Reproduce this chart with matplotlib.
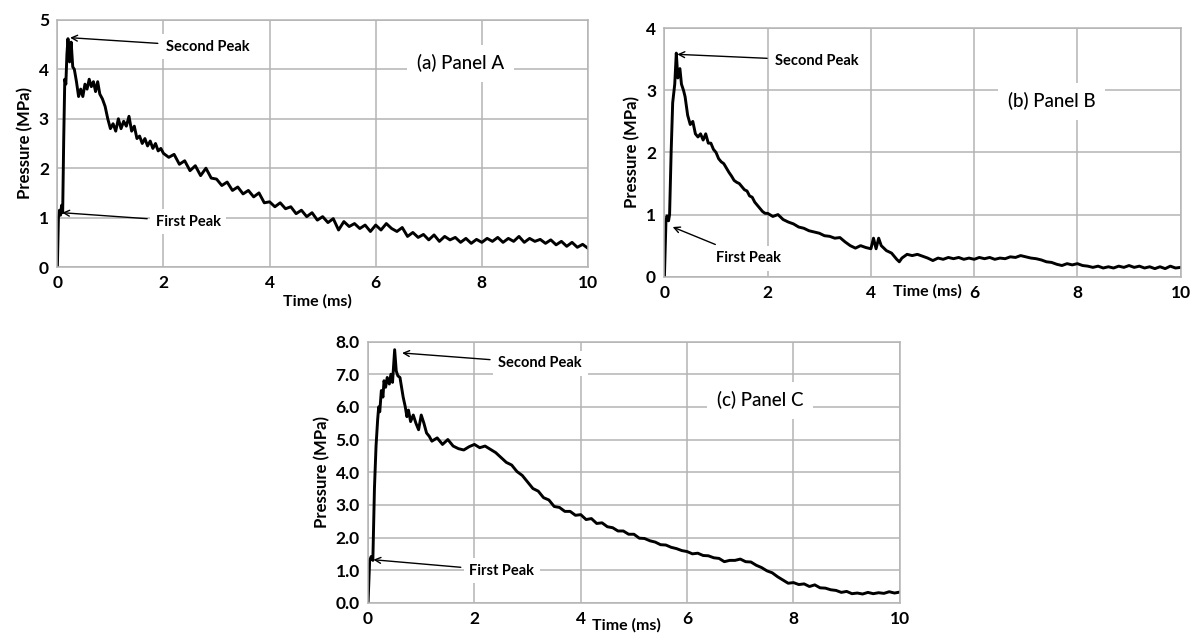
import numpy as np
import matplotlib.pyplot as plt

plt.rcParams['font.family'] = ['Lato', 'DejaVu Sans']

# ---- panel A : pressure trace (MPa) vs time (ms)
time_a = [0, 0.02, 0.04, 0.06, 0.08, 0.1, 0.12, 0.14, 0.16, 0.18, 0.2, 0.23, 0.26, 0.29,
          0.32, 0.36, 0.4, 0.44, 0.48, 0.52, 0.56, 0.6, 0.64, 0.68, 0.72, 0.76, 0.8,
          0.85, 0.9, 0.95, 1.0, 1.05, 1.1, 1.15, 1.2, 1.25, 1.3, 1.35, 1.4, 1.45, 1.5,
          1.55, 1.6, 1.65, 1.7, 1.75, 1.8, 1.85, 1.9, 1.95,
          2.0, 2.1, 2.2, 2.3, 2.4, 2.5, 2.6, 2.7, 2.8, 2.9, 3.0, 3.1, 3.2, 3.3, 3.4, 3.5,
          3.6, 3.7, 3.8, 3.9, 4.0, 4.1, 4.2, 4.3, 4.4, 4.5, 4.6, 4.7, 4.8, 4.9, 5.0, 5.1,
          5.2, 5.3, 5.4, 5.5, 5.6, 5.7, 5.8, 5.9, 6.0, 6.1, 6.2, 6.3, 6.4, 6.5, 6.6, 6.7,
          6.8, 6.9, 7.0, 7.1, 7.2, 7.3, 7.4, 7.5, 7.6, 7.7, 7.8, 7.9, 8.0, 8.1, 8.2, 8.3,
          8.4, 8.5, 8.6, 8.7, 8.8, 8.9, 9.0, 9.1, 9.2, 9.3, 9.4, 9.5, 9.6, 9.7, 9.8, 9.9,
          10.0]
pres_a = [0, 1.0, 1.15, 1.05, 1.25, 1.1, 2.6, 3.8, 3.7, 4.3, 4.62, 4.15, 4.55, 4.05,
          4.0, 3.75, 3.45, 3.6, 3.45, 3.7, 3.6, 3.8, 3.65, 3.75, 3.55, 3.75, 3.5,
          3.4, 3.25, 3.0, 2.8, 2.9, 2.75, 3.0, 2.8, 2.95, 2.85, 3.05, 2.75, 2.85, 2.6,
          2.65, 2.5, 2.6, 2.45, 2.55, 2.4, 2.5, 2.35, 2.4,
          2.3, 2.22, 2.28, 2.08, 2.15, 1.95, 2.05, 1.85, 2.0, 1.8, 1.78, 1.65, 1.72, 1.55,
          1.62, 1.48, 1.55, 1.42, 1.5, 1.3, 1.32, 1.22, 1.3, 1.18, 1.22, 1.08, 1.15, 1.02,
          1.1, 0.95, 1.02, 0.9, 0.98, 0.75, 0.92, 0.82, 0.88, 0.78, 0.85, 0.72, 0.85, 0.75,
          0.88, 0.78, 0.72, 0.8, 0.62, 0.7, 0.6, 0.66, 0.55, 0.65, 0.52, 0.62, 0.55, 0.6,
          0.5, 0.58, 0.48, 0.56, 0.5, 0.58, 0.52, 0.6, 0.5, 0.58, 0.52, 0.62, 0.5, 0.58,
          0.52, 0.56, 0.48, 0.55, 0.45, 0.52, 0.42, 0.5, 0.4, 0.46, 0.38]

# ---- panel B
time_b = [0, 0.03, 0.05, 0.08, 0.1, 0.13, 0.16, 0.2, 0.23, 0.26, 0.3, 0.33, 0.37, 0.4,
          0.45, 0.5, 0.55, 0.6, 0.65, 0.7, 0.75, 0.8, 0.85, 0.9, 0.95, 1.0, 1.05, 1.1,
          1.15, 1.2, 1.25, 1.3, 1.35, 1.4, 1.45, 1.5, 1.55, 1.6, 1.65, 1.7, 1.75, 1.8,
          1.85, 1.9, 1.95,
          2.0, 2.1, 2.2, 2.3, 2.4, 2.5, 2.6, 2.7, 2.8, 2.9, 3.0, 3.1, 3.2, 3.3, 3.4, 3.5,
          3.6, 3.7, 3.8, 3.9, 4.0, 4.05, 4.1, 4.15, 4.2, 4.3, 4.4, 4.5, 4.55, 4.6, 4.7,
          4.8, 4.9, 5.0, 5.1, 5.2, 5.3, 5.4, 5.5, 5.6, 5.7, 5.8, 5.9, 6.0, 6.1, 6.2, 6.3,
          6.4, 6.5, 6.6, 6.7, 6.8, 6.9, 7.0, 7.1, 7.2, 7.3, 7.4, 7.5, 7.6, 7.7, 7.8, 7.9,
          8.0, 8.1, 8.2, 8.3, 8.4, 8.5, 8.6, 8.7, 8.8, 8.9, 9.0, 9.1, 9.2, 9.3, 9.4, 9.5,
          9.6, 9.7, 9.8, 9.9, 10.0]
pres_b = [0, 0.9, 0.98, 0.9, 1.0, 2.0, 2.8, 3.1, 3.6, 3.2, 3.35, 3.1, 3.0, 2.9,
          2.6, 2.45, 2.5, 2.3, 2.25, 2.3, 2.2, 2.3, 2.15, 2.15, 2.05, 2.0, 1.9, 1.85,
          1.82, 1.75, 1.68, 1.62, 1.55, 1.52, 1.5, 1.45, 1.4, 1.38, 1.3, 1.28, 1.2, 1.15,
          1.1, 1.05, 1.02,
          1.02, 0.97, 1.0, 0.92, 0.88, 0.85, 0.8, 0.78, 0.74, 0.72, 0.7, 0.66, 0.65, 0.62,
          0.63, 0.56, 0.5, 0.46, 0.5, 0.47, 0.45, 0.62, 0.45, 0.62, 0.5, 0.42, 0.38, 0.28,
          0.24, 0.3, 0.36, 0.34, 0.36, 0.33, 0.3, 0.26, 0.3, 0.28, 0.31, 0.29, 0.31, 0.28,
          0.3, 0.28, 0.31, 0.29, 0.31, 0.28, 0.3, 0.29, 0.32, 0.31, 0.34, 0.32, 0.3, 0.29,
          0.27, 0.24, 0.23, 0.2, 0.18, 0.21, 0.19, 0.21, 0.18, 0.17, 0.15, 0.17, 0.14,
          0.16, 0.14, 0.17, 0.15, 0.18, 0.15, 0.17, 0.14, 0.16, 0.13, 0.16, 0.13, 0.17,
          0.14, 0.15]

# ---- panel C
time_c = [0, 0.03, 0.06, 0.09, 0.12, 0.15, 0.18, 0.2, 0.22, 0.25, 0.28, 0.3, 0.33, 0.36,
          0.4, 0.43, 0.46, 0.5, 0.53, 0.56, 0.6, 0.63, 0.66, 0.7, 0.73, 0.76, 0.8, 0.85,
          0.9, 0.95, 1.0, 1.05, 1.1, 1.15, 1.2, 1.3, 1.4, 1.5, 1.6, 1.7, 1.8, 1.9, 2.0,
          2.1, 2.2, 2.3, 2.4, 2.5, 2.6, 2.7, 2.8, 2.9,
          3.0, 3.1, 3.2, 3.3, 3.4, 3.5, 3.6, 3.7, 3.8, 3.9, 4.0, 4.1, 4.2, 4.3, 4.4, 4.5,
          4.6, 4.7, 4.8, 4.9, 5.0, 5.1, 5.2, 5.3, 5.4, 5.5, 5.6, 5.7, 5.8, 5.9, 6.0, 6.1,
          6.2, 6.3, 6.4, 6.5, 6.6, 6.7, 6.8, 6.9, 7.0, 7.1, 7.2, 7.3, 7.4, 7.5, 7.6, 7.7,
          7.8, 7.9, 8.0, 8.1, 8.2, 8.3, 8.4, 8.5, 8.6, 8.7, 8.8, 8.9, 9.0, 9.1, 9.2, 9.3,
          9.4, 9.5, 9.6, 9.7, 9.8, 9.9, 10.0]
pres_c = [0, 1.3, 1.42, 1.3, 3.5, 4.8, 5.6, 6.0, 5.85, 6.5, 6.3, 6.8, 6.6, 6.9,
          6.7, 7.0, 6.75, 7.75, 7.1, 6.95, 6.9, 6.6, 6.3, 6.0, 5.7, 5.9, 5.55, 5.75,
          5.5, 5.3, 5.75, 5.5, 5.2, 5.1, 4.95, 5.05, 4.85, 5.0, 4.8, 4.72, 4.68, 4.78,
          4.85, 4.75, 4.8, 4.7, 4.6, 4.45, 4.3, 4.22, 4.02, 3.9,
          3.7, 3.5, 3.42, 3.22, 3.15, 2.95, 2.92, 2.8, 2.8, 2.68, 2.7, 2.55, 2.58, 2.43,
          2.45, 2.33, 2.3, 2.2, 2.2, 2.1, 2.1, 1.98, 1.97, 1.9, 1.86, 1.78, 1.77, 1.7,
          1.66, 1.6, 1.57, 1.5, 1.52, 1.45, 1.44, 1.38, 1.36, 1.26, 1.3, 1.3, 1.34, 1.26,
          1.25, 1.15, 1.08, 0.98, 0.92, 0.8, 0.7, 0.6, 0.62, 0.56, 0.58, 0.5, 0.55, 0.46,
          0.45, 0.4, 0.38, 0.32, 0.35, 0.28, 0.3, 0.27, 0.32, 0.28, 0.31, 0.29, 0.34,
          0.3, 0.33]

x_ticks = [0, 2, 4, 6, 8, 10]
y_ticks_a = [0, 1, 2, 3, 4, 5]
y_ticks_b = [0, 1, 2, 3, 4]
y_ticks_c = [0, 1, 2, 3, 4, 5, 6, 7, 8]
y_labels_c = ['0.0', '1.0', '2.0', '3.0', '4.0', '5.0', '6.0', '7.0', '8.0']

fig = plt.figure(figsize=(11.95, 6.42), dpi=100)
ax_a = fig.add_axes([0.048, 0.584, 0.444, 0.385])
ax_b = fig.add_axes([0.556, 0.569, 0.432, 0.387])
ax_c = fig.add_axes([0.308, 0.061, 0.445, 0.407])

grid_col = '#b4b4b4'
white_box = dict(facecolor='white', edgecolor='none', pad=4)


def style(ax, yticks, ymax, ylabels=None):
    ax.set_xlim(0, 10)
    ax.set_ylim(0, ymax)
    ax.set_xticks(x_ticks)
    ax.set_yticks(yticks)
    if ylabels is not None:
        ax.set_yticklabels(ylabels)
    ax.grid(True, color=grid_col, lw=1.1)
    ax.set_axisbelow(True)
    for s in ax.spines.values():
        s.set_color(grid_col)
        s.set_linewidth(1.1)
    ax.tick_params(length=0, labelsize=12.5, pad=6)
    for lb in ax.get_xticklabels() + ax.get_yticklabels():
        lb.set_fontweight('bold')


def peak_notes(ax, second_tip, second_txt, first_tip, first_txt):
    ax.annotate('Second Peak', xy=second_tip, xytext=second_txt, fontsize=10.5,
                fontweight='bold', ha='left', va='center', bbox=white_box,
                arrowprops=dict(arrowstyle='->', color='black', lw=1, shrinkA=2, shrinkB=0))
    ax.annotate('First Peak', xy=first_tip, xytext=first_txt, fontsize=10.5,
                fontweight='bold', ha='left', va='center', bbox=white_box,
                arrowprops=dict(arrowstyle='->', color='black', lw=1, shrinkA=2, shrinkB=0))


# panel A
ax_a.plot(time_a, pres_a, color='black', lw=2.1)
style(ax_a, y_ticks_a, 5)
peak_notes(ax_a, (0.24, 4.64), (2.05, 4.46), (0.09, 1.1), (1.85, 0.92))
ax_a.text(7.6, 4.12, '(a) Panel A', fontsize=13.5, fontweight='medium', ha='center',
          va='center', bbox=dict(facecolor='white', edgecolor='none', pad=7))
ax_a.set_ylabel('Pressure (MPa)', fontsize=12, fontweight='bold', labelpad=4)
ax_a.text(4.9, -0.11, 'Time (ms)', transform=ax_a.get_xaxis_transform(), fontsize=11.5,
          fontweight='bold', ha='center', va='top')

# panel B
ax_b.plot(time_b, pres_b, color='black', lw=2.1)
style(ax_b, y_ticks_b, 4)
peak_notes(ax_b, (0.25, 3.58), (2.15, 3.48), (0.16, 0.8), (1.0, 0.3))
ax_b.text(7.5, 2.82, '(b) Panel B', fontsize=13.5, fontweight='medium', ha='center',
          va='center', bbox=dict(facecolor='white', edgecolor='none', pad=7))
ax_b.set_ylabel('Pressure (MPa)', fontsize=12, fontweight='bold', labelpad=4)
ax_b.text(5.1, -0.03, 'Time (ms)', transform=ax_b.get_xaxis_transform(), fontsize=11.5,
          fontweight='bold', ha='center', va='top')

# panel C
ax_c.plot(time_c, pres_c, color='black', lw=2.1)
style(ax_c, y_ticks_c, 8, y_labels_c)
peak_notes(ax_c, (0.64, 7.65), (2.45, 7.33), (0.1, 1.32), (1.9, 0.98))
ax_c.text(7.37, 6.2, '(c) Panel C', fontsize=13.5, fontweight='medium', ha='center',
          va='center', bbox=dict(facecolor='white', edgecolor='none', pad=7))
ax_c.set_ylabel('Pressure (MPa)', fontsize=12, fontweight='bold', labelpad=4)
ax_c.text(4.85, -0.06, 'Time (ms)', transform=ax_c.get_xaxis_transform(), fontsize=11.5,
          fontweight='bold', ha='center', va='top')

fig.savefig('out.png', dpi=100)
